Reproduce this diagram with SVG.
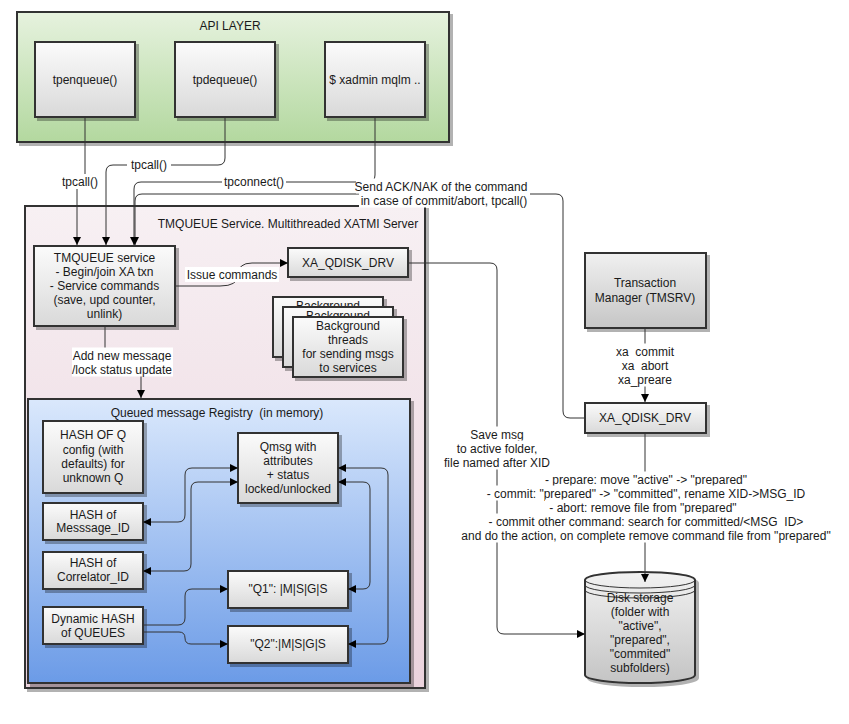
<svg xmlns="http://www.w3.org/2000/svg" width="849" height="724" viewBox="0 0 849 724">
<defs>
<linearGradient id="gBox" x1="0" y1="0" x2="0" y2="1"><stop offset="0" stop-color="#fbfbfb"/><stop offset="1" stop-color="#d9d9d9"/></linearGradient>
<linearGradient id="gTm" x1="0" y1="0" x2="0" y2="1"><stop offset="0" stop-color="#f0f0f0"/><stop offset="1" stop-color="#c6c6c6"/></linearGradient>
<linearGradient id="gDisk" x1="0" y1="0" x2="0" y2="1"><stop offset="0" stop-color="#f2f2f2"/><stop offset="1" stop-color="#c4c4c4"/></linearGradient>
<linearGradient id="gApi" x1="0" y1="0" x2="0" y2="1"><stop offset="0" stop-color="#e6f2de"/><stop offset="1" stop-color="#b3d89f"/></linearGradient>
<linearGradient id="gPink" x1="0" y1="0" x2="0" y2="1"><stop offset="0" stop-color="#f7f0f3"/><stop offset="1" stop-color="#ebd3dd"/></linearGradient>
<linearGradient id="gBlue" x1="0" y1="0" x2="0" y2="1"><stop offset="0" stop-color="#dae8fc"/><stop offset="1" stop-color="#6b9be7"/></linearGradient>
<filter id="sh" x="-10%" y="-10%" width="130%" height="130%"><feDropShadow dx="3" dy="3" stdDeviation="0.7" flood-color="#000" flood-opacity="0.3"/></filter>
<clipPath id="clip1"><rect x="270" y="290" width="120" height="16"/></clipPath>
<clipPath id="clip2"><rect x="280" y="300" width="120" height="16"/></clipPath>
<marker id="ar" viewBox="0 0 10 10" refX="10" refY="5" markerWidth="8" markerHeight="8" markerUnits="userSpaceOnUse" orient="auto-start-reverse"><path d="M0,0 L10,5 L0,10 z" fill="#000"/></marker>
<style>
text{font-family:"Liberation Sans",Arial,sans-serif;font-size:12px;fill:#1a1a1a;text-anchor:middle}
.box{fill:url(#gBox);stroke:#333;stroke-width:2;filter:url(#sh)}
.tm{fill:url(#gTm);stroke:#333;stroke-width:2;filter:url(#sh)}
.cont{stroke:#333;stroke-width:2;filter:url(#sh)}
.c{fill:none;stroke:#333;stroke-width:1}
.ca{fill:none;stroke:#333;stroke-width:1;marker-end:url(#ar)}
.cb{fill:none;stroke:#333;stroke-width:1;marker-start:url(#ar);marker-end:url(#ar)}
.lb{fill:#fff}
</style>
</defs>

<g id="api-layer"><rect class="cont" x="17" y="12" width="432" height="130" fill="url(#gApi)"/><text x="230" y="30">API LAYER</text></g>
<g id="tpenqueue"><rect class="box" x="35" y="42" width="100" height="75"/><text x="85" y="84">tpenqueue()</text></g>
<g id="tpdequeue"><rect class="box" x="175" y="42" width="100" height="75"/><text x="225" y="84">tpdequeue()</text></g>
<g id="xadmin"><rect class="box" x="325" y="42" width="100" height="75"/><text x="375" y="84">$ xadmin mqlm ..</text></g>

<g id="tmqueue-server"><rect class="cont" x="25" y="206" width="400" height="482" fill="url(#gPink)"/><text x="288" y="228">TMQUEUE Service. Multithreaded XATMI Server</text></g>

<g id="tmqueue-service"><rect class="box" x="34" y="246" width="141" height="80"/>
<text x="104.5" y="262">TMQUEUE service</text><text x="104.5" y="276">- Begin/join XA txn</text><text x="104.5" y="290">- Service commands</text><text x="104.5" y="304">(save, upd counter,</text><text x="104.5" y="318">unlink)</text></g>

<g id="xa-qdisk-drv-inner"><rect class="box" x="288" y="248" width="120" height="29"/><text x="348" y="267">XA_QDISK_DRV</text></g>

<g id="bg-thread-1"><rect class="box" x="273" y="297" width="110" height="60"/><text x="328" y="310" clip-path="url(#clip1)">Background</text></g>
<g id="bg-thread-2"><rect class="box" x="283" y="307" width="110" height="60"/><text x="338" y="320" clip-path="url(#clip2)">Background</text></g>
<g id="bg-thread-3"><rect class="box" x="293" y="317" width="110" height="60"/><text x="348" y="330">Background</text><text x="348" y="344">threads</text><text x="348" y="358">for sending msgs</text><text x="348" y="372">to services</text></g>

<g id="registry"><rect class="cont" x="28" y="399" width="382" height="284" fill="url(#gBlue)"/><text x="217" y="417" xml:space="preserve">Queued message Registry  (in memory)</text></g>

<g id="hash-q-config"><rect class="box" x="43" y="421" width="100" height="72"/><text x="93" y="439">HASH OF Q</text><text x="93" y="454">config (with</text><text x="93" y="468">defaults) for</text><text x="93" y="482">unknown Q</text></g>
<g id="hash-msgid"><rect class="box" x="43" y="503" width="100" height="37"/><text x="93" y="519">HASH of</text><text x="93" y="532">Messsage_ID</text></g>
<g id="hash-corrid"><rect class="box" x="43" y="552" width="100" height="37"/><text x="93" y="567">HASH of</text><text x="93" y="581">Correlator_ID</text></g>
<g id="dyn-hash"><rect class="box" x="43" y="607" width="100" height="37"/><text x="93" y="623">Dynamic HASH</text><text x="93" y="637">of QUEUES</text></g>
<g id="qmsg"><rect class="box" x="238" y="433" width="100" height="70"/><text x="288" y="451">Qmsg with</text><text x="288" y="465">attributes</text><text x="288" y="479">+ status</text><text x="288" y="493">locked/unlocked</text></g>
<g id="q1"><rect class="box" x="228" y="571" width="120" height="37"/><text x="288" y="593">"Q1": |M|S|G|S</text></g>
<g id="q2"><rect class="box" x="228" y="626" width="120" height="37"/><text x="288" y="648">"Q2":|M|S|G|S</text></g>

<g id="tmsrv"><rect class="tm" x="585" y="253" width="121" height="75"/><text x="645" y="287">Transaction</text><text x="645" y="302">Manager (TMSRV)</text></g>
<g id="xa-qdisk-drv-right"><rect class="box" x="585" y="403" width="121" height="30"/><text x="645" y="422">XA_QDISK_DRV</text></g>

<g id="disk-storage">
<path d="M585,580 A55,8 0 0 1 695,580 V675 A55,8 0 0 1 585,675 Z" fill="url(#gDisk)" stroke="#333" stroke-width="2" filter="url(#sh)"/>
<path d="M585,580 A55,8 0 0 0 695,580 M585,585 A55,8 0 0 0 695,585 M585,590 A55,8 0 0 0 695,590" fill="none" stroke="#333" stroke-width="1"/>
<text x="640" y="602">Disk storage</text><text x="640" y="616">(folder with</text><text x="640" y="630">"active",</text><text x="640" y="644">"prepared",</text><text x="640" y="658">"commited"</text><text x="640" y="672">subfolders)</text>
</g>

<g id="connectors">
<path class="ca" d="M85,117 V182 H77 V245"/>
<rect class="lb" x="58" y="174" width="44" height="15"/><text x="80" y="186">tpcall()</text>
<path class="ca" d="M225,117 V158 Q225,165 218,165 H113 Q106,165 106,172 V245"/>
<rect class="lb" x="127" y="157" width="44" height="15"/><text x="149" y="169">tpcall()</text>
<path class="ca" d="M375,117 V175 Q375,182 368,182 H141 Q134,182 134,189 V245"/>
<rect class="lb" x="222" y="174" width="64" height="15"/><text x="254" y="186">tpconnect()</text>
<path class="ca" d="M585,418 H570 Q563,418 563,411 V201 Q563,194 556,194 H142 Q135,194 135,201 V245"/>
<rect class="lb" x="356" y="178.5" width="170" height="15"/><text x="441" y="191">Send ACK/NAK of the command</text>
<rect class="lb" x="359" y="192.5" width="171" height="15"/><text x="444" y="205">in case of commit/abort, tpcall()</text>

<path class="ca" d="M175,286 H220 Q238,286 238,275 Q238,263 252,263 H288"/>
<rect class="lb" x="185" y="267" width="94" height="15"/><text x="232" y="279">Issue commands</text>

<path class="ca" d="M105,326 V362 H141 V398"/>
<rect class="lb" x="72" y="347.5" width="101" height="15"/><text x="122" y="360">Add new message</text>
<rect class="lb" x="72" y="361.5" width="101" height="15"/><text x="122" y="374">/lock status update</text>

<path class="cb" d="M143,522 H178 Q185,522 185,515 V475 Q185,468 192,468 H238"/>
<path class="cb" d="M143,571 H184 Q191,571 191,564 V489 Q191,482 198,482 H238"/>
<path class="ca" d="M143,625 H178 Q185,625 185,618 V596 Q185,589 192,589 H228"/>
<path class="ca" d="M143,632 H179 Q185,632 185,638 Q185,644 191,644 H228"/>
<path class="cb" d="M338,482 H363 Q370,482 370,489 V582 Q370,589 363,589 H348"/>
<path class="cb" d="M338,468 H381 Q388,468 388,475 V637 Q388,644 381,644 H348"/>

<path class="ca" d="M408,263 H490 Q497,263 497,270 V627 Q497,634 504,634 H585"/>
<rect class="lb" x="470" y="426.5" width="54" height="15"/><text x="497" y="439">Save msg</text>
<rect class="lb" x="449" y="440.5" width="96" height="15"/><text x="497" y="453">to active folder,</text>
<rect class="lb" x="439" y="454.5" width="116" height="15"/><text x="497" y="467">file named after XID</text>

<path class="ca" d="M645,328 V402"/>
<rect class="lb" x="614" y="343.5" width="62" height="15"/><text x="645" y="356">xa_commit</text>
<rect class="lb" x="619" y="357.5" width="52" height="15"/><text x="645" y="370">xa_abort</text>
<rect class="lb" x="616" y="371.5" width="58" height="15"/><text x="645" y="384">xa_preare</text>

<path class="ca" d="M645,433 V582"/>
<rect class="lb" x="544" y="471.5" width="204" height="15"/><text x="646" y="484">- prepare: move "active" -&gt; "prepared"</text>
<rect class="lb" x="485" y="485.5" width="322" height="15"/><text x="646" y="498">- commit: "prepared" -&gt; "committed", rename XID-&gt;MSG_ID</text>
<rect class="lb" x="545" y="499.5" width="196" height="15"/><text x="643" y="512">- abort: remove file from "prepared"</text>
<rect class="lb" x="486" y="513.5" width="320" height="15"/><text x="646" y="526">- commit other command: search for committed/&lt;MSG_ID&gt;</text>
<rect class="lb" x="460" y="527.5" width="372" height="15"/><text x="646" y="540">and do the action, on complete remove command file from "prepared"</text>
</g>
</svg>
